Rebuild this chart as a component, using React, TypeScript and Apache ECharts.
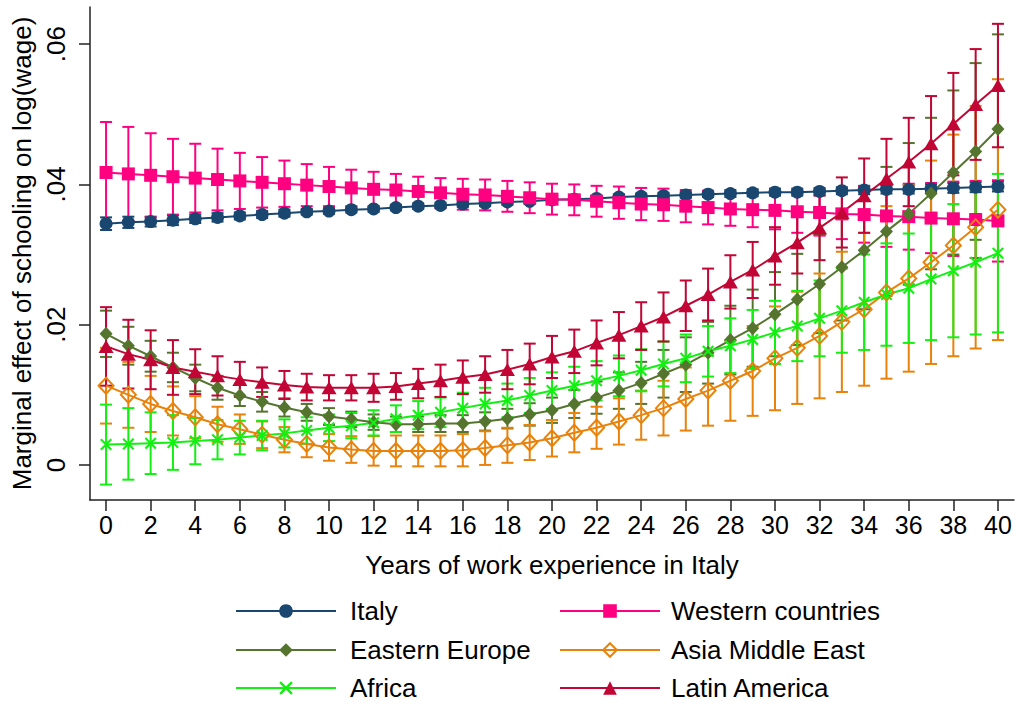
import React, { useEffect, useRef } from "react";
import * as echarts from "echarts";

// Years of work experience in Italy
const years: number[] = Array.from({ length: 41 }, (_, i) => i);
const xTicks = [0, 2, 4, 6, 8, 10, 12, 14, 16, 18, 20, 22, 24, 26, 28, 30, 32, 34, 36, 38, 40];
const yTicks = [0, 0.02, 0.04, 0.06];

// Point estimates of the marginal effect of schooling, by origin group
const italyMean = [0.0344, 0.0346, 0.0347, 0.0349, 0.0351, 0.0353, 0.0355, 0.0357, 0.0359, 0.0361, 0.0362, 0.0364, 0.0365, 0.0367, 0.0369, 0.037, 0.0372, 0.0373, 0.0375, 0.0376, 0.0378, 0.0379, 0.038, 0.0382, 0.0383, 0.0384, 0.0385, 0.0386, 0.0387, 0.0388, 0.0389, 0.0389, 0.039, 0.0391, 0.0392, 0.0393, 0.0393, 0.0394, 0.0395, 0.0396, 0.0397];
const westernMean = [0.0417, 0.0415, 0.0413, 0.0411, 0.0409, 0.0407, 0.0405, 0.0403, 0.0401, 0.0399, 0.0397, 0.0395, 0.0393, 0.0392, 0.039, 0.0388, 0.0386, 0.0385, 0.0383, 0.0381, 0.0379, 0.0378, 0.0376, 0.0374, 0.0372, 0.0371, 0.0369, 0.0367, 0.0365, 0.0364, 0.0363, 0.0361, 0.036, 0.0358, 0.0357, 0.0355, 0.0354, 0.0352, 0.0351, 0.035, 0.0348];
const easternMean = [0.0187, 0.017, 0.0155, 0.0139, 0.0124, 0.011, 0.0099, 0.009, 0.0082, 0.0075, 0.0069, 0.0065, 0.0061, 0.0058, 0.0058, 0.0059, 0.0059, 0.0062, 0.0066, 0.0072, 0.0078, 0.0087, 0.0096, 0.0106, 0.0117, 0.013, 0.0143, 0.016, 0.0178, 0.0195, 0.0215, 0.0236, 0.0258, 0.0282, 0.0306, 0.0333, 0.0358, 0.0387, 0.0417, 0.0447, 0.0479];
const asiaMean = [0.0113, 0.01, 0.0087, 0.0077, 0.0068, 0.0058, 0.0051, 0.0043, 0.0036, 0.003, 0.0025, 0.0022, 0.002, 0.002, 0.002, 0.002, 0.0021, 0.0024, 0.0028, 0.0032, 0.0038, 0.0046, 0.0053, 0.0062, 0.0071, 0.0081, 0.0094, 0.0106, 0.012, 0.0134, 0.0152, 0.0167, 0.0184, 0.0204, 0.0222, 0.0246, 0.0266, 0.0289, 0.0313, 0.0339, 0.0364];
const africaMean = [0.0029, 0.003, 0.0031, 0.0032, 0.0034, 0.0036, 0.0039, 0.0042, 0.0045, 0.0049, 0.0053, 0.0056, 0.006, 0.0066, 0.0071, 0.0075, 0.0081, 0.0087, 0.0092, 0.0099, 0.0106, 0.0113, 0.012, 0.0127, 0.0135, 0.0144, 0.0152, 0.0162, 0.017, 0.0179, 0.0189, 0.0198, 0.0209, 0.022, 0.0232, 0.0243, 0.0252, 0.0265, 0.0277, 0.0289, 0.0302];
const latinMean = [0.0169, 0.0158, 0.015, 0.0139, 0.0133, 0.0127, 0.0122, 0.0118, 0.0114, 0.0111, 0.011, 0.011, 0.011, 0.0112, 0.0116, 0.012, 0.0125, 0.0129, 0.0136, 0.0144, 0.0154, 0.0162, 0.0174, 0.0185, 0.0198, 0.0211, 0.0227, 0.0243, 0.0261, 0.0278, 0.0298, 0.0317, 0.0338, 0.036, 0.0384, 0.0408, 0.0432, 0.0458, 0.0486, 0.0514, 0.0541];

// Half-widths of the 95% confidence intervals
const italyMoe = [0.0009, 0.0008, 0.0007, 0.0007, 0.0006, 0.0006, 0.0005, 0.0005, 0.0005, 0.0004, 0.0004, 0.0004, 0.0004, 0.0004, 0.0004, 0.0004, 0.0004, 0.0004, 0.0004, 0.0004, 0.0004, 0.0004, 0.0004, 0.0004, 0.0004, 0.0004, 0.0004, 0.0004, 0.0005, 0.0005, 0.0005, 0.0005, 0.0005, 0.0005, 0.0006, 0.0006, 0.0006, 0.0006, 0.0007, 0.0007, 0.0007];
const westernMoe = [0.0072, 0.0067, 0.006, 0.0054, 0.0049, 0.0044, 0.004, 0.0036, 0.0033, 0.003, 0.0028, 0.0026, 0.0025, 0.0023, 0.0021, 0.0021, 0.0022, 0.0022, 0.0022, 0.0022, 0.0022, 0.0022, 0.0022, 0.0023, 0.0023, 0.0023, 0.0023, 0.0024, 0.0024, 0.0025, 0.0027, 0.003, 0.0033, 0.0036, 0.004, 0.0044, 0.0047, 0.005, 0.0053, 0.0055, 0.0058];
const easternMoe = [0.0033, 0.0027, 0.0022, 0.0021, 0.0019, 0.0017, 0.0015, 0.0014, 0.0013, 0.0012, 0.0012, 0.0011, 0.0011, 0.0011, 0.0011, 0.0012, 0.0012, 0.0013, 0.0014, 0.0016, 0.0018, 0.002, 0.0023, 0.0026, 0.003, 0.0034, 0.0039, 0.0044, 0.0049, 0.0055, 0.006, 0.0065, 0.007, 0.0076, 0.0084, 0.0092, 0.0101, 0.0108, 0.0117, 0.0126, 0.0135];
const asiaMoe = [0.0054, 0.0047, 0.004, 0.0035, 0.003, 0.0025, 0.0021, 0.0019, 0.0018, 0.0019, 0.0019, 0.0019, 0.0021, 0.0022, 0.0022, 0.0022, 0.0023, 0.0024, 0.0025, 0.0025, 0.0026, 0.0028, 0.003, 0.0033, 0.0035, 0.0039, 0.0045, 0.005, 0.0057, 0.0064, 0.0074, 0.008, 0.0089, 0.01, 0.0109, 0.0123, 0.0133, 0.0145, 0.0158, 0.0173, 0.0186];
const africaMoe = [0.0057, 0.0051, 0.0044, 0.0039, 0.0033, 0.0028, 0.0024, 0.0021, 0.002, 0.0019, 0.0019, 0.0018, 0.0018, 0.0019, 0.002, 0.0021, 0.0022, 0.0023, 0.0024, 0.0025, 0.0026, 0.0027, 0.0028, 0.0029, 0.003, 0.0032, 0.0034, 0.0036, 0.0039, 0.0042, 0.0045, 0.005, 0.0054, 0.006, 0.0068, 0.0073, 0.0078, 0.0087, 0.0095, 0.0103, 0.0113];
const latinMoe = [0.0056, 0.0049, 0.0042, 0.0039, 0.0032, 0.0028, 0.0025, 0.0021, 0.002, 0.0019, 0.0018, 0.0018, 0.002, 0.0019, 0.0021, 0.0023, 0.0024, 0.0026, 0.0028, 0.0029, 0.003, 0.0031, 0.0032, 0.0033, 0.0034, 0.0035, 0.0036, 0.0037, 0.0038, 0.004, 0.0041, 0.0044, 0.0046, 0.005, 0.0053, 0.0057, 0.0063, 0.0068, 0.0073, 0.0079, 0.0088];

// Legend layout: two columns of three entries
const legendColumns = [
  ["Italy", "Eastern Europe", "Africa"],
  ["Western countries", "Asia Middle East", "Latin America"],
];

const FONT = "'Liberation Sans', Arial, Helvetica, sans-serif";

// X-shaped marker built as two filled diagonal bars
const CROSS = "path://M0,1.5L1.5,0L12,10.5L10.5,12ZM10.5,0L12,1.5L1.5,12L0,10.5Z";

type Group = {
  name: string;
  color: string;
  mean: number[];
  moe: number[];
  symbol: string;
  symbolSize: number | number[];
  hollow?: boolean;
};

const groups: Group[] = [
  { name: "Italy", color: "#1a476f", mean: italyMean, moe: italyMoe, symbol: "circle", symbolSize: 13 },
  { name: "Western countries", color: "#ff0080", mean: westernMean, moe: westernMoe, symbol: "rect", symbolSize: 13 },
  { name: "Eastern Europe", color: "#55752f", mean: easternMean, moe: easternMoe, symbol: "diamond", symbolSize: [13, 14] },
  { name: "Asia Middle East", color: "#e8820a", mean: asiaMean, moe: asiaMoe, symbol: "diamond", symbolSize: [15, 16], hollow: true },
  { name: "Africa", color: "#12f012", mean: africaMean, moe: africaMoe, symbol: CROSS, symbolSize: 12 },
  { name: "Latin America", color: "#c10534", mean: latinMean, moe: latinMoe, symbol: "triangle", symbolSize: [15, 13] },
];

function ciSeries(g: Group) {
  const data = years.map((x, i) => [x, g.mean[i] - g.moe[i], g.mean[i] + g.moe[i]]);
  return {
    type: "custom",
    name: g.name + " CI",
    data,
    encode: { x: 0, y: [1, 2] },
    silent: true,
    z: 2,
    renderItem: (_params: any, api: any) => {
      const x = api.value(0);
      const lo = api.coord([x, api.value(1)]);
      const hi = api.coord([x, api.value(2)]);
      const cap = 6;
      const style = { stroke: g.color, lineWidth: 2 };
      return {
        type: "group",
        children: [
          { type: "line", shape: { x1: lo[0], y1: lo[1], x2: hi[0], y2: hi[1] }, style },
          { type: "line", shape: { x1: lo[0] - cap, y1: lo[1], x2: lo[0] + cap, y2: lo[1] }, style },
          { type: "line", shape: { x1: hi[0] - cap, y1: hi[1], x2: hi[0] + cap, y2: hi[1] }, style },
        ],
      };
    },
  };
}

function lineSeries(g: Group) {
  return {
    type: "line",
    name: g.name,
    data: years.map((x, i) => [x, g.mean[i]]),
    symbol: g.symbol,
    symbolSize: g.symbolSize,
    showAllSymbol: true,
    z: 3,
    lineStyle: { color: g.color, width: 2 },
    itemStyle: g.hollow
      ? { color: "rgba(255,255,255,0)", borderColor: g.color, borderWidth: 2 }
      : { color: g.color, borderWidth: 0 },
    emphasis: { disabled: true },
  };
}

export default function App() {
  const ref = useRef<HTMLDivElement>(null);

  useEffect(() => {
    if (!ref.current) return;
    const chart = echarts.init(ref.current, undefined, { renderer: "svg" });

    // one legend component per entry so the two columns line up exactly
    const colLeft = [235, 559];
    const textGap = [9, 6];
    const rowCenter = [613, 652, 690];
    const legends: any[] = [];
    legendColumns.forEach((col, c) => {
      col.forEach((name, r) => {
        legends.push({
          orient: "horizontal",
          left: colLeft[c],
          top: rowCenter[r] - 15,
          padding: 0,
          itemWidth: 100,
          itemHeight: 17,
          selectedMode: false,
          data: [name],
          textStyle: { fontFamily: FONT, fontSize: 26, color: "#000", padding: [0, 0, 0, textGap[c]] },
        });
      });
    });

    chart.setOption({
      animation: false,
      backgroundColor: "#fff",
      textStyle: { fontFamily: FONT },
      grid: { left: 90, top: 7, width: 924, height: 493, containLabel: false },
      legend: legends,
      xAxis: {
        type: "value",
        min: -0.72,
        max: 40.72,
        name: "Years of work experience in Italy",
        nameLocation: "middle",
        nameGap: 52,
        nameTextStyle: { fontFamily: FONT, fontSize: 26, color: "#000" },
        axisLine: { show: true, onZero: false, lineStyle: { color: "#222", width: 1.5 } },
        axisTick: { show: true, length: 11, lineStyle: { color: "#222", width: 1.5 }, customValues: xTicks },
        axisLabel: {
          fontFamily: FONT,
          fontSize: 25,
          color: "#000",
          margin: 12,
          customValues: xTicks,
          formatter: (v: number) => String(v),
        },
        splitLine: { show: false },
      },
      yAxis: {
        type: "value",
        min: -0.005,
        max: 0.0653,
        name: "Marginal effect of schooling on log(wage)",
        nameLocation: "middle",
        nameRotate: 90,
        nameGap: 54,
        nameTextStyle: { fontFamily: FONT, fontSize: 26, color: "#000" },
        axisLine: { show: true, onZero: false, lineStyle: { color: "#222", width: 1.5 } },
        axisTick: { show: true, length: 11, lineStyle: { color: "#222", width: 1.5 }, customValues: yTicks },
        axisLabel: {
          fontFamily: FONT,
          fontSize: 26,
          color: "#000",
          rotate: 90,
          margin: 21,
          customValues: yTicks,
          formatter: (v: number) => (v === 0 ? "0" : v.toFixed(2).replace(/^0/, "")),
        },
        splitLine: { show: false },
      },
      series: [...groups.map(ciSeries), ...groups.map(lineSeries)],
    });

    return () => chart.dispose();
  }, []);

  return (
    <div
      ref={ref}
      style={{ position: "fixed", left: 0, top: 0, width: 1016, height: 704, background: "#fff" }}
    />
  );
}
